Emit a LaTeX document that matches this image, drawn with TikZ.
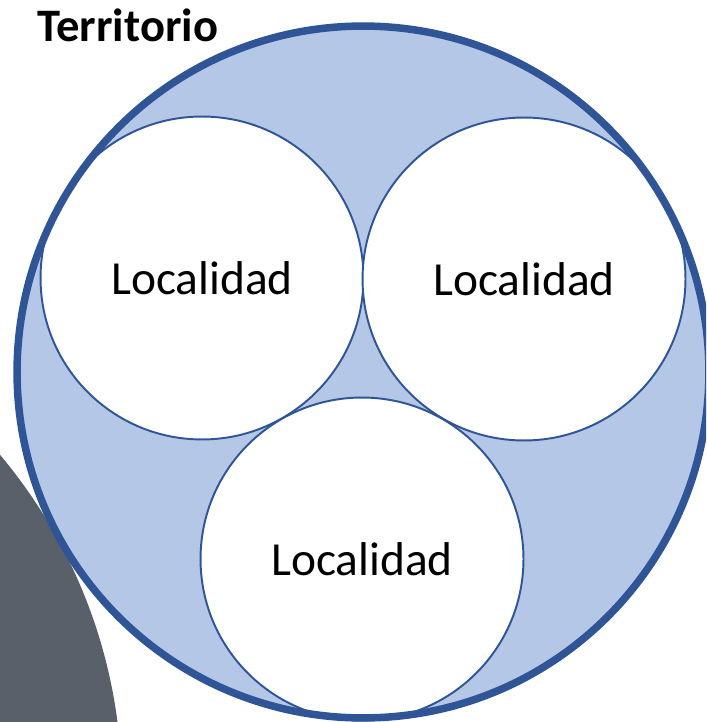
\documentclass[tikz,border=0pt]{standalone}
\usepackage{fontspec}
\setmainfont{Carlito}
\usepackage{tikz}
\usetikzlibrary{positioning}
\definecolor{terrblue}{RGB}{47,85,151}
\definecolor{terrfill}{RGB}{180,199,231}
\definecolor{slategray}{RGB}{90,96,106}

\begin{document}
\begin{tikzpicture}[
  x=0.02cm, y=-0.02cm,
  territory/.style={circle, minimum size=13.84cm, inner sep=0pt},
  locality/.style={circle, draw=terrblue, line width=1.1pt, fill=white, minimum size=6.46cm, inner sep=0pt, font=\fontsize{27}{30}\selectfont},
  title/.style={font=\bfseries\fontsize{26.5}{30}\selectfont, inner sep=0pt}
]
\clip (0,0) rectangle (706,722);
\fill[white] (0,0) rectangle (706,722);
% gray shape in the corner
\node[circle, fill=slategray, minimum size=20.88cm, inner sep=0pt] (blob) at (-400,790) {};
% Territorio
\node[territory, fill=terrfill] (territorio) at (363,372) {};
\node[title, anchor=base west] (ttitle) at (37,42) {Territorio};
% Localidades
\node[locality] (loc1) at (202,278) {Localidad};
\node[locality] (loc2) at (524,279) {\raisebox{-0.16cm}{Localidad}};
\node[locality] (loc3) at (362,559) {\raisebox{-0.08cm}{Localidad}};
% border on top
\node[territory, draw=terrblue, line width=0.15cm] (tborder) at (territorio) {};
\end{tikzpicture}
\end{document}
